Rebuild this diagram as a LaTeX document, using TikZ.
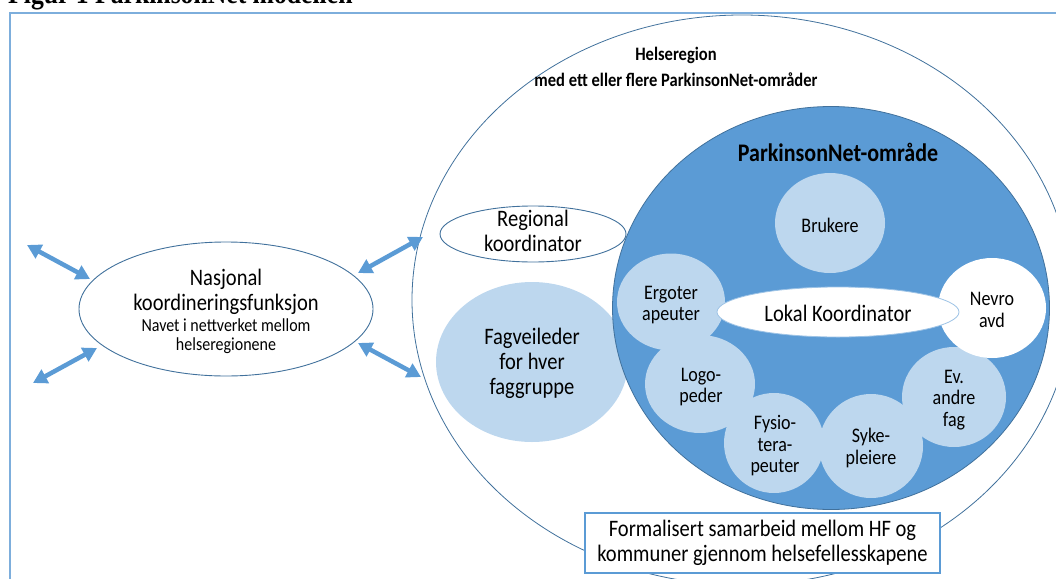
\documentclass[tikz,border=0pt]{standalone}
\usepackage{fontspec}
\setmainfont{Carlito}[FakeStretch=0.87]
\newfontfamily\titlefont{Liberation Serif}[FakeStretch=0.87]
\usetikzlibrary{shapes.geometric,arrows.meta}
\definecolor{dblue}{HTML}{5B9BD5}
\definecolor{lblue}{HTML}{BDD7EE}
\definecolor{edgeblue}{HTML}{41719C}
\definecolor{framecol}{RGB}{125,174,220}
\definecolor{lokaledge}{HTML}{9DC3E6}
\begin{document}
\begin{tikzpicture}[x=1pt,y=-1pt,
  oval/.style={ellipse, inner sep=0pt},
  bigtxt/.style={font=\fontsize{23.6}{25}\selectfont, align=center},
  midtxt/.style={font=\fontsize{20.7}{21.5}\selectfont, align=center},
  smalltxt/.style={font=\fontsize{18.4}{19.5}\selectfont, align=center},
  incirc/.style={oval, fill=lblue},
  dblarrow/.style={draw=dblue, line width=4.5pt,
    {Triangle[width=15pt,length=14pt]}-{Triangle[width=15pt,length=14pt]}}
]
\useasboundingbox (0,0) rectangle (1056,578);
% cut-off title
\node[anchor=base west, inner sep=0pt, font=\titlefont\bfseries\fontsize{29.5}{30}\selectfont] (title) at (8,3.5) {Figur 1 ParkinsonNet modellen};
% frame
\draw[framecol, line width=1.4pt] (10,13) rectangle (1075,600);

% Helseregion
\node[oval, draw=edgeblue, line width=0.8pt, minimum width=660pt, minimum height=570pt] (helse) at (742,300) {};
\node[font=\bfseries\fontsize{19}{26}\selectfont, align=center] (helselbl) at (676,67) {Helseregion\\med ett eller flere ParkinsonNet-områder};

% Fagveileder and Regional
\node[incirc, minimum width=192pt, minimum height=160pt] (fag) at (532,362) {};
\node[bigtxt] (faglbl) at (532,363) {Fagveileder\\for hver\\faggruppe};
\node[oval, draw=edgeblue, line width=0.9pt, fill=white, minimum width=186pt, minimum height=56pt] (reg) at (533,234) {};
\node[bigtxt] (reglbl) at (533,231) {Regional\\koordinator};

% ParkinsonNet-område
\node[oval, fill=dblue, draw=edgeblue, line width=0.8pt, minimum width=437pt, minimum height=403pt] (area) at (831,308) {};
\node[font=\bfseries\fontsize{25.3}{26}\selectfont] (arealbl) at (838,152) {ParkinsonNet-område};

\node[incirc, minimum width=110pt, minimum height=100pt] (bruk) at (830,223) {};
\node[midtxt] (bruklbl) at (830,225) {Brukere};
\node[incirc, minimum width=110pt, minimum height=98pt] (logo) at (700,384) {};
\node[incirc, minimum width=108pt, minimum height=97pt] (ergo) at (671,302) {};
\node[incirc, minimum width=100pt, minimum height=100pt] (fysio) at (774,443) {};
\node[incirc, minimum width=104pt, minimum height=104pt] (syke) at (871,446) {};
\node[incirc, minimum width=104pt, minimum height=100pt] (evand) at (954,397) {};
\node[oval, fill=white, minimum width=108pt, minimum height=100pt] (nevro) at (992,308) {};
\node[oval, fill=white, draw=lokaledge, line width=0.8pt, minimum width=242pt, minimum height=50pt] (lokal) at (838,312) {};

\node[midtxt] (ergolbl) at (671,305) {Ergoter\\apeuter};
\node[midtxt] (logolbl) at (701,387) {Logo-\\peder};
\node[midtxt] (fysiolbl) at (775,446) {Fysio-\\tera-\\peuter};
\node[midtxt] (sykelbl) at (871,448) {Syke-\\pleiere};
\node[midtxt] (evandlbl) at (954,400) {Ev.\\andre\\fag};
\node[midtxt] (nevrolbl) at (992,310) {Nevro\\avd};
\node[bigtxt] (lokallbl) at (838,313) {Lokal Koordinator};

% Formalisert samarbeid
\node[draw=dblue, line width=1.5pt, fill=white, minimum width=355pt, minimum height=60pt, inner sep=0pt, bigtxt] (formal) at (762.5,543) {Formalisert samarbeid mellom HF og\\kommuner gjennom helsefellesskapene};

% Nasjonal
\node[oval, draw=edgeblue, line width=0.9pt, fill=white, minimum width=294pt, minimum height=134pt] (nasj) at (226,309) {};
\node[bigtxt] (nasjlbl) at (226,292) {Nasjonal\\koordineringsfunksjon};
\node[smalltxt] (nasjsub) at (226,336) {Navet i nettverket mellom\\helseregionene};

% arrows
\coordinate (nwA) at (27,245);
\coordinate (nwB) at (90,279);
\coordinate (swA) at (33,383);
\coordinate (swB) at (97,348);
\coordinate (neA) at (358,273);
\coordinate (neB) at (423,237);
\coordinate (seA) at (358,343);
\coordinate (seB) at (421,377);
\draw[dblarrow] (nwA) -- (nwB);
\draw[dblarrow] (swA) -- (swB);
\draw[dblarrow] (neA) -- (neB);
\draw[dblarrow] (seA) -- (seB);
\end{tikzpicture}
\end{document}
